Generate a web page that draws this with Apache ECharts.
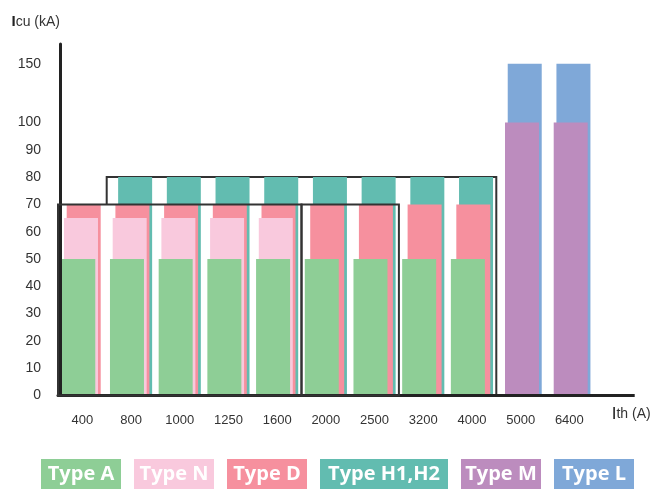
<!DOCTYPE html>
<html><head><meta charset="utf-8">
<script src="https://cdn.jsdelivr.net/npm/echarts@6/dist/echarts.min.js"></script>
<style>html,body{margin:0;padding:0;background:#fff}#c{width:660px;height:489px}</style>
</head><body><div id="c"></div>
<script>
// ---- data ----
const categories = ['400','800','1000','1250','1600','2000','2500','3200','4000','5000','6400'];
const typeA = [50,50,50,50,50,50,50,50,50,null,null];
const typeN = [65,65,65,65,65,null,null,null,null,null,null];
const typeD = [70,70,70,70,70,70,70,70,70,null,null];
const typeH = [null,80,80,80,80,80,80,80,80,null,null];
const typeM = [null,null,null,null,null,null,null,null,null,100,100];
const typeL = [null,null,null,null,null,null,null,null,null,150,150];
const yTickLabels = [0,10,20,30,40,50,60,70,80,90,100,150];
const seriesNames = ['Type A','Type N','Type D','Type H1,H2','Type M','Type L'];
const frameLow = [['400','1600',70],['2000','2500',70]];
const frameHigh = ['800','4000',80];

// ---- styles ----
const colors = ['#8ECE96','#F9C9DD','#F6909E','#62BCB0','#BC8CBE','#7FA8D8'];
const font = 'Liberation Sans, Arial, sans-serif';
const lineCol = '#222';

// broken scale: values above 100 are compressed
const tf = v => v <= 100 ? v : 100 + (v - 100) * (21.5 / 50);
const toData = arr => arr.map(v => v == null ? '-' : tf(v));
const tickVals = yTickLabels.map(tf);

const area = (from, to, top) => [{xAxis: from, yAxis: 0}, {xAxis: to, yAxis: top}];

function bar(i, data, stack, z, extra) {
  return Object.assign({
    name: seriesNames[i], type: 'bar', data: toData(data), stack: stack, z: z,
    barWidth: 34, barGap: '-92%', itemStyle: {color: colors[i]},
    emphasis: {disabled: true}, animation: false
  }, extra || {});
}

const legendRich = {};
seriesNames.forEach((n, i) => {
  legendRich['s' + i] = {
    backgroundColor: colors[i], color: '#fff', fontFamily: 'Open Sans',
    fontWeight: 'bold', fontSize: 20, width: i === 3 ? 128 : 80, height: 30,
    lineHeight: 30, align: 'center'
  };
});

const chart = echarts.init(document.getElementById('c'));
chart.setOption({
  animation: false,
  backgroundColor: '#fff',
  grid: {left: 58, top: 44, width: 535.7, height: 351.5},
  legend: {
    data: seriesNames, left: 36, top: 459, padding: 0, itemGap: 8,
    itemWidth: 0, itemHeight: 30, icon: 'none', selectedMode: false,
    formatter: name => '{s' + seriesNames.indexOf(name) + '|' + name + '}',
    textStyle: {rich: legendRich}
  },
  xAxis: {
    type: 'category', data: categories, z: 10,
    axisLine: {lineStyle: {color: lineCol, width: 3}, symbol: ['none', 'rect'], symbolSize: [3, 42], symbolOffset: [0, 20]},
    axisTick: {show: false, interval: 0},
    axisLabel: {interval: 0, fontSize: 13, color: '#333', margin: 18, fontFamily: font},
    name: '{i|I}{t|th (A)}', nameLocation: 'end', nameGap: 18,
    nameTextStyle: {align: 'left', verticalAlign: 'top', padding: [10, 0, 0, 0],
      rich: {i: {fontSize: 17, color: lineCol, fontFamily: font}, t: {fontSize: 14, color: '#333', fontFamily: font}}}
  },
  yAxis: {
    type: 'value', min: 0, max: 128.75, offset: -2, z: 10,
    axisLine: {show: true, lineStyle: {color: lineCol, width: 3}},
    axisTick: {show: false},
    splitLine: {show: false},
    axisLabel: {
      customValues: tickVals, fontSize: 14, color: '#333', margin: 19, fontFamily: font,
      formatter: v => {
        let best = 0;
        tickVals.forEach((t, k) => { if (Math.abs(t - v) < Math.abs(tickVals[best] - v)) best = k; });
        return String(yTickLabels[best]);
      }
    },
    name: '{i|I}{t|cu (kA)}', nameLocation: 'end', nameGap: 22,
    nameTextStyle: {align: 'right', verticalAlign: 'middle',
      rich: {i: {fontSize: 15, fontWeight: 'bold', color: lineCol, fontFamily: font}, t: {fontSize: 14, color: '#333', fontFamily: font}}}
  },
  series: [
    bar(0, typeA, 'a', 6, {markArea: {
      silent: true, z: 12, label: {show: false},
      itemStyle: {color: 'rgba(0,0,0,0)', borderColor: '#333', borderWidth: 2},
      data: frameLow.map(f => area(f[0], f[1], f[2]))
    }}),
    bar(1, typeN, 'n', 5, {markArea: {
      silent: true, z: 1.5, label: {show: false},
      itemStyle: {color: '#fff', borderWidth: 0},
      data: [area(frameLow[0][0], frameLow[0][1], frameLow[0][2])]
    }}),
    bar(2, typeD, 'd', 4),
    bar(3, typeH, 'h', 3, {markArea: {
      silent: true, z: 1, label: {show: false},
      itemStyle: {color: 'rgba(0,0,0,0)', borderColor: '#333', borderWidth: 2},
      data: [area(frameHigh[0], frameHigh[1], frameHigh[2])]
    }}),
    bar(4, typeM, 'd', 4.5),
    bar(5, typeL, 'h', 3.5)
  ]
});
</script></body></html>
